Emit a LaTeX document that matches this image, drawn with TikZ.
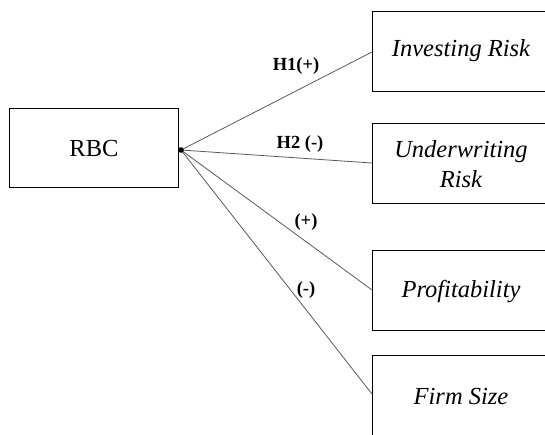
\documentclass[tikz,border=0pt]{standalone}
\usepackage{fontspec}
\setmainfont{Liberation Serif}[ItalicFont={Liberation Serif Italic},BoldFont={Liberation Serif Bold}]
\begin{document}
\begin{tikzpicture}[x=1pt,y=-1pt,
  box/.style={draw=black,line width=1.3pt,minimum width=178pt,minimum height=80pt,inner sep=0pt,anchor=north west},
  boxtext/.style={font=\fontsize{24.5}{30}\selectfont\itshape,align=center},
  link/.style={draw=black!65,line width=0.8pt},
  hyp/.style={font=\fontsize{18.5}{20}\selectfont\bfseries,inner sep=0pt}]
\useasboundingbox (0,0) rectangle (545,434);
\clip (0,0) rectangle (545,434);
% boxes
\node[box,minimum width=169pt,minimum height=79pt] (rbc) at (9,108) {};
\node[font=\fontsize{24.5}{30}\selectfont] (rbct) at (94,149) {RBC};
\node[box] (inv) at (372,11) {};
\node[box] (und) at (372,123) {};
\node[box] (pro) at (372,250) {};
\node[box] (fir) at (372,355) {};
\node[boxtext] (invt) at (461,51) {Investing Risk};
\node[boxtext] (undt) at (461,164) {Underwriting\\Risk};
\node[boxtext] (prot) at (461,292) {Profitability};
\node[boxtext] (firt) at (461,397) {Firm Size};
% junction
\coordinate (J) at (181,150);
\coordinate (e1) at (372,52);
\coordinate (e2) at (372,163);
\coordinate (e3) at (372,290);
\coordinate (e4) at (372,394);
\draw[link] (J) -- (e1);
\draw[link] (J) -- (e2);
\draw[link] (J) -- (e3);
\draw[link] (J) -- (e4);
\fill (J) circle (2.8);
% labels
\node[hyp] (h1) at (296,66) {H1(+)};
\node[hyp] (h2) at (300,144) {H2 (-)};
\node[hyp] (h3) at (306,222) {(+)};
\node[hyp] (h4) at (306,290) {(-)};
\end{tikzpicture}
\end{document}
